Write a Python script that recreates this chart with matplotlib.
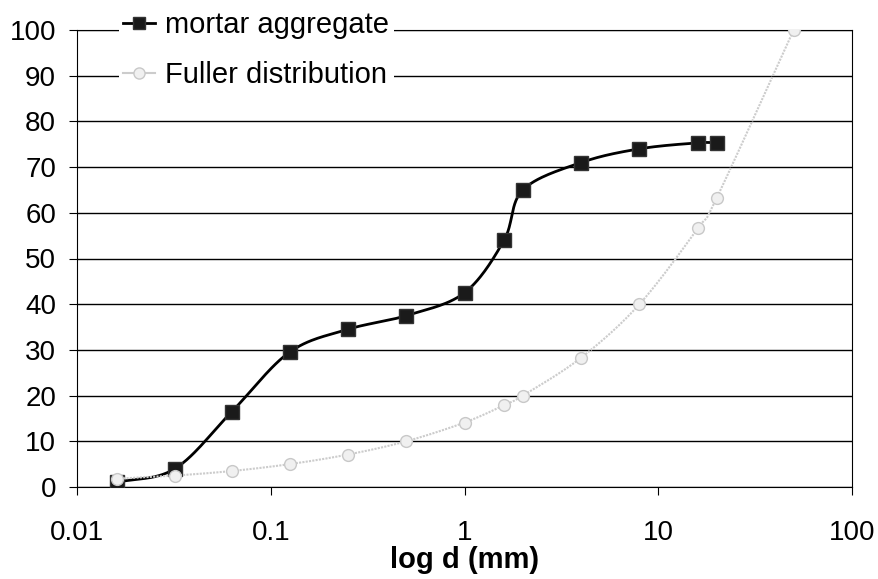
import matplotlib.pyplot as plt
import numpy as np

plt.rcParams['font.family'] = ['Liberation Sans', 'DejaVu Sans']

# sieve sizes (mm) and percent passing
mortar_d = [0.016, 0.032, 0.063, 0.125, 0.25, 0.5, 1, 1.6, 2, 4, 8, 16, 20]
mortar_p = [1.0, 4.0, 16.5, 29.5, 34.5, 37.5, 42.5, 54.0, 65.0, 71.0, 74.0, 75.3, 75.3]

fuller_d = [0.016, 0.032, 0.063, 0.125, 0.25, 0.5, 1, 1.6, 2, 4, 8, 16, 20, 50]
fuller_p = [1.8, 2.5, 3.5, 5.0, 7.1, 10.0, 14.1, 17.9, 20.0, 28.3, 40.0, 56.6, 63.2, 100.0]

x_ticks = [0.01, 0.1, 1, 10, 100]
x_labels = ['0.01', '0.1', '1', '10', '100']


def smooth(xs, ys, n=30):
    # Catmull-Rom through the points, done in log-x space (like a spreadsheet "smoothed line")
    lx = np.log10(xs)
    ys = np.asarray(ys, float)
    px = np.concatenate([[2 * lx[0] - lx[1]], lx, [2 * lx[-1] - lx[-2]]])
    py = np.concatenate([[2 * ys[0] - ys[1]], ys, [2 * ys[-1] - ys[-2]]])
    out_x, out_y = [], []
    t = np.linspace(0, 1, n)
    for i in range(1, len(px) - 2):
        for p, out in ((px, out_x), (py, out_y)):
            p0, p1, p2, p3 = p[i - 1], p[i], p[i + 1], p[i + 2]
            seg = 0.5 * ((2 * p1) + (-p0 + p2) * t + (2 * p0 - 5 * p1 + 4 * p2 - p3) * t ** 2
                         + (-p0 + 3 * p1 - 3 * p2 + p3) * t ** 3)
            out.extend(seg)
    return 10 ** np.array(out_x), np.array(out_y)


fig = plt.figure(figsize=(8.79, 5.79), dpi=100)
ax = fig.add_axes([77 / 879, 92 / 579, 775 / 879, 457 / 579])

# mortar aggregate
sx, sy = smooth(mortar_d, mortar_p)
ax.plot(sx, sy, color='black', lw=2, zorder=3)
ax.plot(mortar_d, mortar_p, ls='none', marker='s', ms=10, mfc='#1a1a1a', mec='#333333', zorder=4)

# Fuller distribution
fx, fy = smooth(fuller_d, fuller_p)
ax.plot(fx, fy, color='#cccccc', lw=1.5, ls=(0, (1, 0.6)), zorder=5)
ax.plot(fuller_d, fuller_p, ls='none', marker='o', ms=8.5, mfc='#f0f0f0', mec='#c8c8c8', zorder=6)

ax.set_xscale('log')
ax.set_xlim(0.01, 100)
ax.set_ylim(0, 100)
ax.set_xticks(x_ticks)
ax.set_xticklabels(x_labels)
ax.xaxis.set_minor_locator(plt.NullLocator())
ax.set_yticks(range(0, 101, 10))
ax.yaxis.grid(True, color='black', lw=1)
ax.set_axisbelow(True)
ax.tick_params(labelsize=20, length=6, direction='out')
ax.tick_params(axis='x', pad=18)
ax.tick_params(axis='y', pad=9)
for s in ax.spines.values():
    s.set_color('black')
ax.set_xlabel('log d (mm)', fontsize=21, fontweight='bold', labelpad=0)

# legend proxies
h1, = ax.plot([], [], color='black', lw=2, marker='s', ms=9, mfc='#1a1a1a', mec='#333333')
h2, = ax.plot([], [], color='#cccccc', lw=1.5, marker='o', ms=8, mfc='#f0f0f0', mec='#c8c8c8')
leg = fig.legend([h1, h2], ['mortar aggregate', 'Fuller distribution'],
                 loc='upper left', bbox_to_anchor=(104 / 879, 1 + 8 / 579), fontsize=21,
                 frameon=True, fancybox=False, edgecolor='none', framealpha=1,
                 handlelength=1.1, handletextpad=0.35, labelspacing=0.75, borderpad=0.15)

fig.savefig('out.png', dpi=100)
